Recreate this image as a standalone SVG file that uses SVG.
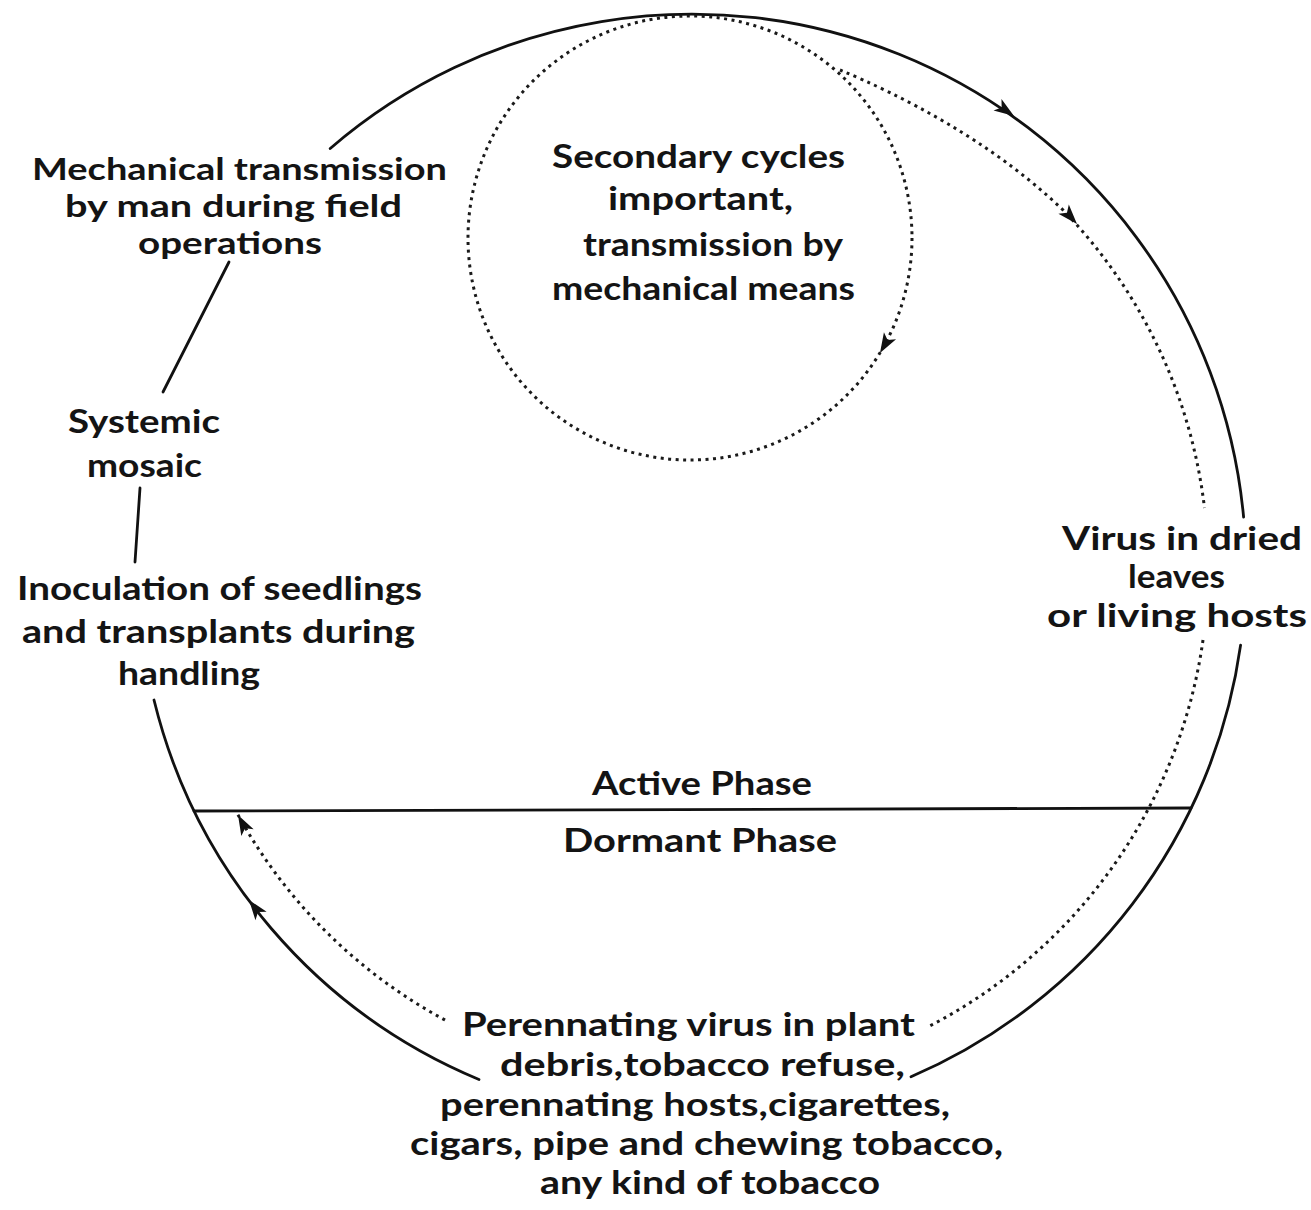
<svg xmlns="http://www.w3.org/2000/svg" xmlns:xlink="http://www.w3.org/1999/xlink" width="1311" height="1210" viewBox="0 0 1311 1210">
<style>
text{font-family:Lato,"Open Sans","DejaVu Sans",sans-serif;font-size:33px;font-weight:700;fill:#141414;text-anchor:middle}
.sm text{font-size:30px}
.solid{fill:none;stroke:#111;stroke-width:2.8;stroke-linecap:round}
.dot{fill:none;stroke:#1a1a1a;stroke-width:3;stroke-dasharray:3 4.5}
.ah{fill:#111}
</style>
<defs>
<path id="ah" d="M0 0 L-20 -7 L-15 0 L-20 7 Z"/>
</defs>
<rect width="1311" height="1210" fill="#fff"/>
<g id="connectors">
<path class="solid" d="M330.2 148.5 A554 554 0 0 1 1243.6 517"/>
<path class="solid" d="M1240.6 645.1 A554 554 0 0 1 911 1076.8"/>
<path class="solid" d="M479 1079.5 A554 554 0 0 1 154 700"/>
<line class="solid" x1="229" y1="262" x2="163" y2="392"/>
<line class="solid" x1="140" y1="488" x2="135" y2="562"/>
<line class="solid" x1="194" y1="811" x2="1191" y2="808"/>
<circle class="dot" cx="690" cy="238" r="222"/>
<path class="dot" d="M840 70 C900 95 990 140 1063 210 A516 516 0 0 1 1204.5 508"/>
<path class="dot" d="M1203 640 A516 516 0 0 1 928.7 1026.5"/>
<path class="dot" d="M445 1020 A516 516 0 0 1 237 813"/>
<use class="ah" xlink:href="#ah" transform="translate(1014 116) rotate(34.5)"/>
<use class="ah" xlink:href="#ah" transform="translate(1077 224) rotate(48)"/>
<use class="ah" xlink:href="#ah" transform="translate(880 353) rotate(120)"/>
<use class="ah" xlink:href="#ah" transform="translate(238 815) rotate(241.7)"/>
<use class="ah" xlink:href="#ah" transform="translate(249 900) rotate(233)"/>
</g>
<g id="node-mechanical" class="sm">
<text x="239.5" y="180" textLength="415" lengthAdjust="spacingAndGlyphs">Mechanical transmission</text>
<text x="233.5" y="217" textLength="337" lengthAdjust="spacingAndGlyphs">by man during field</text>
<text x="230" y="254" textLength="184" lengthAdjust="spacingAndGlyphs">operations</text>
</g>
<g id="node-systemic">
<text x="144" y="433" textLength="152" lengthAdjust="spacingAndGlyphs">Systemic</text>
<text x="144.5" y="477" textLength="115" lengthAdjust="spacingAndGlyphs">mosaic</text>
</g>
<g id="node-inoculation">
<text x="219.5" y="600" textLength="405" lengthAdjust="spacingAndGlyphs">Inoculation of seedlings</text>
<text x="218.5" y="643" textLength="393" lengthAdjust="spacingAndGlyphs">and transplants during</text>
<text x="189" y="685" textLength="142" lengthAdjust="spacingAndGlyphs">handling</text>
</g>
<g id="node-secondary">
<text x="698.5" y="168" textLength="293" lengthAdjust="spacingAndGlyphs">Secondary cycles</text>
<text x="700.5" y="210" textLength="185" lengthAdjust="spacingAndGlyphs">important,</text>
<text x="713" y="256" textLength="260" lengthAdjust="spacingAndGlyphs">transmission by</text>
<text x="703.5" y="300" textLength="303" lengthAdjust="spacingAndGlyphs">mechanical means</text>
</g>
<g id="node-virus">
<text x="1182" y="550" textLength="240" lengthAdjust="spacingAndGlyphs">Virus in dried</text>
<text x="1176.5" y="588" textLength="97" lengthAdjust="spacingAndGlyphs">leaves</text>
<text x="1177" y="627" textLength="260" lengthAdjust="spacingAndGlyphs">or living hosts</text>
</g>
<g id="node-phases">
<text x="702" y="795" textLength="220" lengthAdjust="spacingAndGlyphs">Active Phase</text>
<text x="700" y="852" textLength="274" lengthAdjust="spacingAndGlyphs">Dormant Phase</text>
</g>
<g id="node-perennating">
<text x="688.5" y="1036" textLength="453" lengthAdjust="spacingAndGlyphs">Perennating virus in plant</text>
<text x="702.5" y="1076" textLength="405" lengthAdjust="spacingAndGlyphs">debris,tobacco refuse,</text>
<text x="695" y="1116" textLength="510" lengthAdjust="spacingAndGlyphs">perennating hosts,cigarettes,</text>
<text x="706.5" y="1155" textLength="593" lengthAdjust="spacingAndGlyphs">cigars, pipe and chewing tobacco,</text>
<text x="710" y="1194" textLength="340" lengthAdjust="spacingAndGlyphs">any kind of tobacco</text>
</g>
</svg>
